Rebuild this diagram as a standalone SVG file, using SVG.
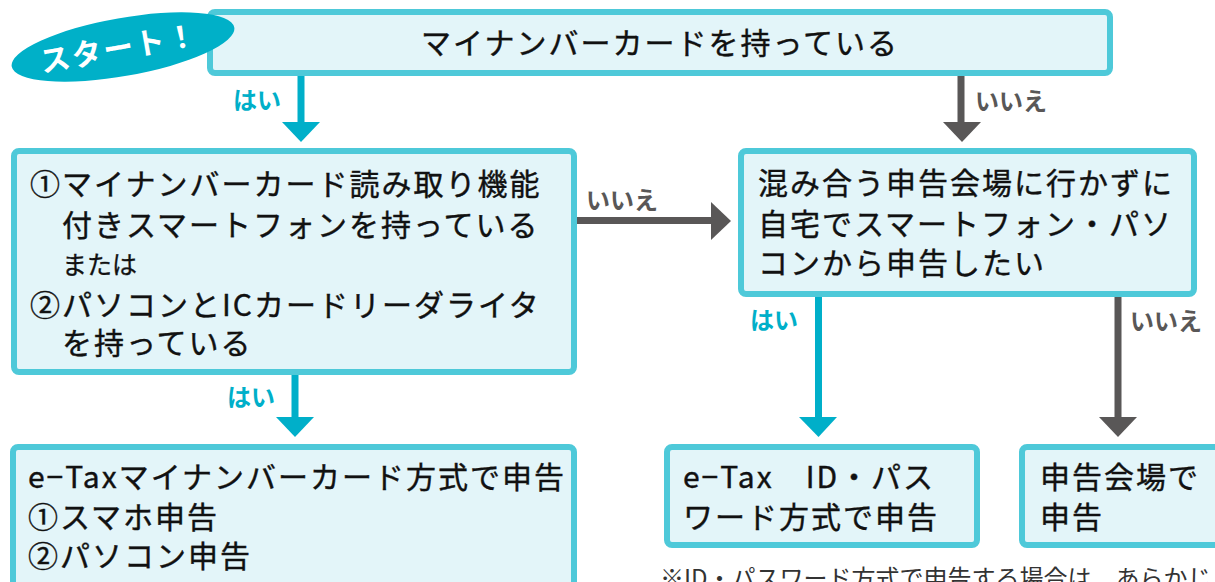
<svg xmlns="http://www.w3.org/2000/svg" width="1215" height="582" viewBox="0 0 1215 582">
<style>
.box{fill:#E3F5F9;stroke:#4EC9D9;stroke-width:6}
.t{font-family:"Noto Sans CJK JP","Noto Sans",sans-serif;font-size:30px;letter-spacing:2px;fill:#111;stroke:#111;stroke-width:0.4}
.yes{font-family:"Noto Sans CJK JP",sans-serif;font-size:24px;font-weight:bold;fill:#00AFC9}
.no{font-family:"Noto Sans CJK JP",sans-serif;font-size:24px;font-weight:bold;fill:#595757}
.ty{fill:#00AFC9}
.tn{fill:#595757}
.note{font-family:"Noto Sans CJK JP",sans-serif;font-size:24px;fill:#333}
</style>
<rect width="1215" height="582" fill="#fff"/>
<g id="connectors">
<rect class="ty" x="297.5" y="76" width="7" height="48"/>
<polygon class="ty" points="282,122 320,122 301,142"/>
<text class="yes" x="233" y="109">はい</text>
<rect class="tn" x="957.5" y="76" width="7" height="48"/>
<polygon class="tn" points="943,122 981,122 962,142"/>
<text class="no" x="975" y="110">いいえ</text>
<rect class="ty" x="291.5" y="375" width="7" height="44"/>
<polygon class="ty" points="276,417 314,417 295,437"/>
<text class="yes" x="227" y="406">はい</text>
<rect class="tn" x="577" y="217" width="137" height="7"/>
<polygon class="tn" points="711,202 711,240 731,221"/>
<text class="no" x="586" y="209">いいえ</text>
<rect class="ty" x="815" y="297" width="7" height="122"/>
<polygon class="ty" points="799,417 837,417 818.5,437"/>
<text class="yes" x="750" y="329">はい</text>
<rect class="tn" x="1114.5" y="297" width="7" height="122"/>
<polygon class="tn" points="1099,417 1137,417 1118,437"/>
<text class="no" x="1130" y="330">いいえ</text>
</g>
<g id="node-top">
<rect class="box" x="210" y="12" width="900" height="61" rx="5"/>
<text class="t" x="660" y="54" text-anchor="middle">マイナンバーカードを持っている</text>
</g>
<g id="node-start">
<ellipse cx="123" cy="47" rx="113" ry="29" fill="#00B0C8" transform="rotate(-10 123 47)"/>
<text x="119" y="59" text-anchor="middle" transform="rotate(-10 119 48)" font-family="Noto Sans CJK JP,sans-serif" font-size="30" font-weight="bold" fill="#fff" letter-spacing="2">スタート！</text>
</g>
<g id="node-device">
<rect class="box" x="14" y="151" width="560" height="221" rx="5"/>
<text class="t" x="30" y="195">①マイナンバーカード読み取り機能</text>
<text class="t" x="62" y="236">付きスマートフォンを持っている</text>
<text x="62" y="274" font-family="Noto Sans CJK JP,sans-serif" font-size="25" fill="#111" stroke="#111" stroke-width="0.3">または</text>
<text class="t" x="30" y="316">②パソコンとICカードリーダライタ</text>
<text class="t" x="62" y="354">を持っている</text>
</g>
<g id="node-home">
<rect class="box" x="741" y="151" width="453" height="143" rx="5"/>
<text class="t" x="758" y="194">混み合う申告会場に行かずに</text>
<text class="t" x="758" y="235">自宅でスマートフォン・パソ</text>
<text class="t" x="758" y="274">コンから申告したい</text>
</g>
<g id="node-mynumber">
<rect class="box" x="13" y="447" width="561" height="150" rx="5"/>
<text class="t" x="28" y="488" letter-spacing="0">e−Taxマイナンバーカード方式で申告</text>
<text class="t" x="28" y="528">①スマホ申告</text>
<text class="t" x="28" y="567">②パソコン申告</text>
</g>
<g id="node-idpw">
<rect class="box" x="667" y="447" width="310" height="98" rx="5"/>
<text class="t" x="683" y="488">e−Tax　ID・パス</text>
<text class="t" x="683" y="528">ワード方式で申告</text>
</g>
<g id="node-venue">
<rect class="box" x="1022" y="447" width="230" height="98" rx="5"/>
<text class="t" x="1040" y="488">申告会場で</text>
<text class="t" x="1040" y="528">申告</text>
</g>
<text class="note" x="660" y="587">※ID・パスワード方式で申告する場合は、あらかじ</text>
</svg>
